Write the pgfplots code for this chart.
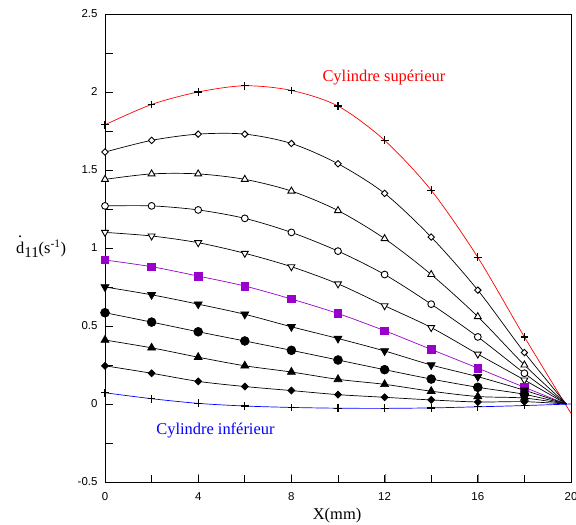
\documentclass[border=0pt]{standalone}
\usepackage{pgfplots}
\pgfplotsset{compat=1.18}
\usepackage{fontspec}
\setmainfont{Liberation Serif}
\newfontfamily\sansf{Liberation Sans}
\definecolor{myred}{RGB}{255,0,0}
\definecolor{myblue}{RGB}{0,0,255}
\definecolor{mypurple}{RGB}{153,0,204}
\newcommand{\dotd}{\makebox[0pt][l]{\makebox[0.5em]{\raisebox{0.98em}{.}}}d}
\pgfdeclareplotmark{mydiamond}{%
 \pgfpathmoveto{\pgfqpoint{0pt}{\pgfplotmarksize}}%
 \pgfpathlineto{\pgfqpoint{\pgfplotmarksize}{0pt}}%
 \pgfpathlineto{\pgfqpoint{0pt}{-\pgfplotmarksize}}%
 \pgfpathlineto{\pgfqpoint{-\pgfplotmarksize}{0pt}}%
 \pgfpathclose\pgfusepathqfillstroke}
\pgfdeclareplotmark{mytridown}{%
 \pgfpathmoveto{\pgfqpoint{0pt}{-\pgfplotmarksize}}%
 \pgfpathlineto{\pgfqpoint{0.866\pgfplotmarksize}{0.5\pgfplotmarksize}}%
 \pgfpathlineto{\pgfqpoint{-0.866\pgfplotmarksize}{0.5\pgfplotmarksize}}%
 \pgfpathclose\pgfusepathqfillstroke}
\pgfdeclareplotmark{mytriup}{%
 \pgfpathmoveto{\pgfqpoint{0pt}{\pgfplotmarksize}}%
 \pgfpathlineto{\pgfqpoint{0.866\pgfplotmarksize}{-0.5\pgfplotmarksize}}%
 \pgfpathlineto{\pgfqpoint{-0.866\pgfplotmarksize}{-0.5\pgfplotmarksize}}%
 \pgfpathclose\pgfusepathqfillstroke}
\begin{document}
\begin{tikzpicture}
\path[use as bounding box] (-105bp,-43bp) rectangle (471bp,482bp);
\begin{axis}[
 at={(0,0)}, anchor=south west,
 scale only axis, width=466bp, height=468bp,
 xmin=0, xmax=20, ymin=-0.5, ymax=2.5,
 axis line style={draw=black, line width=0.8pt},
 xtick={0,4,8,12,16,20}, xticklabels={0,4,8,12,16,20},
 ytick={-0.5,0,0.5,1,1.5,2,2.5}, yticklabels={-0.5,0,0.5,1,1.5,2,2.5},
 tick pos=left, tick align=inside,
 major tick length=7.5bp,
 ticklabel style={font=\sansf\fontsize{11.5}{12}\selectfont},
 xticklabel style={yshift=-7bp},
 yticklabel style={xshift=-4bp},
 clip=false,
 xlabel={X(mm)},
 xlabel style={font=\fontsize{16.5}{18}\selectfont, at={(axis description cs:0.498,-0.0726)}, anchor=center},
 ylabel={\dotd\raisebox{-4bp}{\fontsize{15}{16}\selectfont 11}(s\textsuperscript{-1})},
 ylabel style={font=\fontsize{16.5}{18}\selectfont, rotate=-90, at={(axis description cs:-0.137,0.503)}, anchor=center},
 every axis plot/.append style={line width=0.7pt},
]
% ---- frame and tick marks, drawn through the axis ----
\addplot[black, line width=0.8pt, mark=none, line join=miter] coordinates {(0,-0.5) (20,-0.5) (20,2.5) (0,2.5) (0,-0.5) (20,-0.5)};
\addplot[black, line width=0.7pt, mark=none, unbounded coords=jump] coordinates {
 (2,-0.5) (2,-0.452) (2,nan) (4,-0.5) (4,-0.452) (4,nan) (6,-0.5) (6,-0.452) (6,nan)
 (8,-0.5) (8,-0.452) (8,nan) (10,-0.5) (10,-0.452) (10,nan) (12,-0.5) (12,-0.452) (12,nan)
 (14,-0.5) (14,-0.452) (14,nan) (16,-0.5) (16,-0.452) (16,nan) (18,-0.5) (18,-0.452) (18,nan)
 (0,-0.25) (0.322,-0.25) (nan,-0.25) (0,0) (0.322,0) (nan,0) (0,0.25) (0.322,0.25) (nan,0.25)
 (0,0.5) (0.322,0.5) (nan,0.5) (0,0.75) (0.322,0.75) (nan,0.75) (0,1) (0.322,1) (nan,1)
 (0,1.25) (0.322,1.25) (nan,1.25) (0,1.5) (0.322,1.5) (nan,1.5) (0,1.75) (0.322,1.75) (nan,1.75)
 (0,2) (0.322,2) (nan,2) (0,2.25) (0.322,2.25)};
% ---- curves ----
\addplot[myred, smooth] coordinates {(0,1.79) (2,1.92) (4,2.00) (6,2.04) (8,2.01) (10,1.91) (12,1.69) (14,1.37) (16,0.94) (18,0.43) (20,-0.06)};
\addplot[black, smooth] coordinates {(0,1.615) (2,1.69) (4,1.73) (6,1.73) (8,1.67) (10,1.54) (12,1.35) (14,1.07) (16,0.73) (18,0.33) (19.8,0)};
\addplot[black, smooth] coordinates {(0,1.44) (2,1.475) (4,1.475) (6,1.44) (8,1.365) (10,1.24) (12,1.06) (14,0.83) (16,0.56) (18,0.25) (19.8,0)};
\addplot[black, smooth] coordinates {(0,1.27) (2,1.27) (4,1.244) (6,1.19) (8,1.10) (10,0.98) (12,0.83) (14,0.64) (16,0.43) (18,0.197) (19.8,0)};
\addplot[black, smooth] coordinates {(0,1.10) (2,1.077) (4,1.034) (6,0.966) (8,0.88) (10,0.77) (12,0.63) (14,0.49) (16,0.32) (18,0.154) (19.8,0)};
\addplot[mypurple, smooth] coordinates {(0,0.923) (2,0.88) (4,0.82) (6,0.756) (8,0.673) (10,0.58) (12,0.47) (14,0.35) (16,0.23) (18,0.107) (19.8,0)};
\addplot[black, smooth] coordinates {(0,0.75) (2,0.70) (4,0.64) (6,0.575) (8,0.495) (10,0.42) (12,0.34) (14,0.25) (16,0.175) (18,0.088) (19.8,0)};
\addplot[black, smooth] coordinates {(0,0.585) (2,0.525) (4,0.463) (6,0.404) (8,0.344) (10,0.282) (12,0.22) (14,0.16) (16,0.107) (18,0.062) (19.8,0)};
\addplot[black, smooth] coordinates {(0,0.41) (2,0.36) (4,0.30) (6,0.245) (8,0.205) (10,0.158) (12,0.126) (14,0.082) (16,0.048) (18,0.038) (19.8,0)};
\addplot[black, smooth] coordinates {(0,0.245) (2,0.197) (4,0.145) (6,0.112) (8,0.086) (10,0.06) (12,0.043) (14,0.026) (16,0.013) (18,0.015) (19.8,0)};
\addplot[myblue, smooth] coordinates {(0,0.072) (2,0.034) (4,0.004) (6,-0.013) (8,-0.022) (10,-0.027) (12,-0.028) (14,-0.025) (16,-0.018) (18,-0.01) (20,0)};
% ---- markers ----
\addplot[only marks, mark=+, mark size=3.9bp, black, line width=1.3pt] coordinates {(0,1.79) (2,1.92) (4,2.00) (6,2.04) (8,2.01) (10,1.91) (12,1.69) (14,1.37) (16,0.94) (18,0.43)};
\addplot[only marks, mark=mydiamond, mark size=3.2bp, draw=black, fill=white, line width=0.9pt] coordinates {(0,1.615) (2,1.69) (4,1.73) (6,1.73) (8,1.67) (10,1.54) (12,1.35) (14,1.07) (16,0.73) (18,0.33)};
\addplot[only marks, mark=mytriup, mark size=4bp, draw=black, fill=white, line width=0.9pt] coordinates {(0,1.44) (2,1.475) (4,1.475) (6,1.44) (8,1.365) (10,1.24) (12,1.06) (14,0.83) (16,0.56) (18,0.25)};
\addplot[only marks, mark=*, mark size=3.4bp, draw=black, fill=white, line width=0.9pt] coordinates {(0,1.27) (2,1.27) (4,1.244) (6,1.19) (8,1.10) (10,0.98) (12,0.83) (14,0.64) (16,0.43) (18,0.197)};
\addplot[only marks, mark=mytridown, mark size=4bp, draw=black, fill=white, line width=0.9pt] coordinates {(0,1.10) (2,1.077) (4,1.034) (6,0.966) (8,0.88) (10,0.77) (12,0.63) (14,0.49) (16,0.32) (18,0.154)};
\addplot[only marks, mark=square*, mark size=3.8bp, draw=mypurple, fill=mypurple] coordinates {(0,0.923) (2,0.88) (4,0.82) (6,0.756) (8,0.673) (10,0.58) (12,0.47) (14,0.35) (16,0.23) (18,0.107)};
\addplot[only marks, mark=mytridown, mark size=4.6bp, draw=black, fill=black] coordinates {(0,0.75) (2,0.70) (4,0.64) (6,0.575) (8,0.495) (10,0.42) (12,0.34) (14,0.25) (16,0.175) (18,0.088)};
\addplot[only marks, mark=*, mark size=4.4bp, draw=black, fill=black] coordinates {(0,0.585) (2,0.525) (4,0.463) (6,0.404) (8,0.344) (10,0.282) (12,0.22) (14,0.16) (16,0.107) (18,0.062)};
\addplot[only marks, mark=mytriup, mark size=4.6bp, draw=black, fill=black] coordinates {(0,0.41) (2,0.36) (4,0.30) (6,0.245) (8,0.205) (10,0.158) (12,0.126) (14,0.082) (16,0.048) (18,0.038)};
\addplot[only marks, mark=mydiamond, mark size=3.5bp, draw=black, fill=black] coordinates {(0,0.245) (2,0.197) (4,0.145) (6,0.112) (8,0.086) (10,0.06) (12,0.043) (14,0.026) (16,0.013) (18,0.015)};
\addplot[only marks, mark=+, mark size=3.9bp, black, line width=1.3pt] coordinates {(0,0.072) (2,0.034) (4,0.004) (6,-0.013) (8,-0.022) (10,-0.027) (12,-0.028) (14,-0.025) (16,-0.018) (18,-0.01)};
\node[myred, font=\fontsize{16.5}{18}\selectfont] at (axis cs:11.97,2.09) {Cylindre supérieur};
\node[myblue, font=\fontsize{16.5}{18}\selectfont] at (axis cs:4.74,-0.17) {Cylindre inférieur};
\end{axis}
\end{tikzpicture}
\end{document}
